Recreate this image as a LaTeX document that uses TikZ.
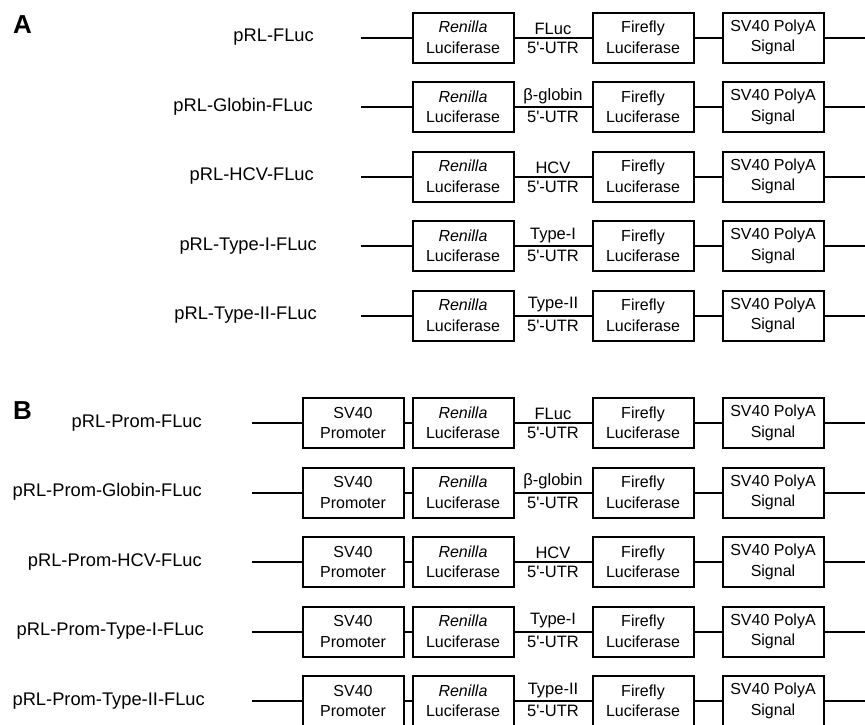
\documentclass[tikz,border=0pt]{standalone}
\usepackage{fontspec}
\setmainfont{Liberation Sans}
\usepackage{tikz}

\tikzset{
  gene/.style={draw, line width=2pt, fill=white, minimum width=101pt,
    minimum height=50pt, inner sep=0pt, align=center,
    font=\fontsize{16}{20.5}\selectfont},
  wire/.style={line width=2pt},
  utrtop/.style={anchor=south, inner sep=1pt, yshift=2pt, font=\fontsize{16.5}{19}\selectfont},
  utrbot/.style={anchor=north, inner sep=1pt, yshift=-3pt, font=\fontsize{16.5}{19}\selectfont},
  construct/.style={anchor=base east, inner sep=0pt, font=\fontsize{18.3}{21}\selectfont},
  panel/.style={anchor=base west, inner sep=0pt, font=\bfseries\fontsize{26}{30}\selectfont}
}
\newcommand{\utr}{5\textquotesingle-UTR}

\begin{document}
\begin{tikzpicture}[x=1pt, y=-1pt]
\useasboundingbox (0,0) rectangle (865,724);
% panel letters
\node[panel] (pa) at (13,33) {A};
\node[panel] (pb) at (13,419) {B};

% ---- A: FLuc ----
\node[construct] (la1) at (314,41.5) {pRL-FLuc};
\coordinate (sa1) at (361,37.5);
\node[gene] (ra1) at (463,37.5) {\textit{Renilla}\\Luciferase};
\node[gene] (fa1) at (643,37.5) {Firefly\\Luciferase};
\node[gene] (pa1) at (773,37.5) {SV40 PolyA\\Signal};
\coordinate (ea1) at (865,37.5);
\node[utrtop] (ua1) at (553,37.5) {FLuc};
\node[utrbot] (ub1) at (553,37.5) {\utr};
\draw[wire] (sa1) -- (ra1) (ra1) -- (fa1) (fa1) -- (pa1) (pa1) -- (ea1);

% ---- A: Globin ----
\node[construct] (la2) at (313,111) {pRL-Globin-FLuc};
\coordinate (sa2) at (361,107);
\node[gene] (ra2) at (463,107) {\textit{Renilla}\\Luciferase};
\node[gene] (fa2) at (643,107) {Firefly\\Luciferase};
\node[gene] (pa2) at (773,107) {SV40 PolyA\\Signal};
\coordinate (ea2) at (865,107);
\node[utrtop] (ua2) at (553,107) {β-globin};
\node[utrbot] (ub2) at (553,107) {\utr};
\draw[wire] (sa2) -- (ra2) (ra2) -- (fa2) (fa2) -- (pa2) (pa2) -- (ea2);

% ---- A: HCV ----
\node[construct] (la3) at (314,180.5) {pRL-HCV-FLuc};
\coordinate (sa3) at (361,176.5);
\node[gene] (ra3) at (463,176.5) {\textit{Renilla}\\Luciferase};
\node[gene] (fa3) at (643,176.5) {Firefly\\Luciferase};
\node[gene] (pa3) at (773,176.5) {SV40 PolyA\\Signal};
\coordinate (ea3) at (865,176.5);
\node[utrtop] (ua3) at (553,176.5) {HCV};
\node[utrbot] (ub3) at (553,176.5) {\utr};
\draw[wire] (sa3) -- (ra3) (ra3) -- (fa3) (fa3) -- (pa3) (pa3) -- (ea3);

% ---- A: Type-I ----
\node[construct] (la4) at (317,250) {pRL-Type-I-FLuc};
\coordinate (sa4) at (361,246);
\node[gene] (ra4) at (463,246) {\textit{Renilla}\\Luciferase};
\node[gene] (fa4) at (643,246) {Firefly\\Luciferase};
\node[gene] (pa4) at (773,246) {SV40 PolyA\\Signal};
\coordinate (ea4) at (865,246);
\node[utrtop] (ua4) at (553,246) {Type-I};
\node[utrbot] (ub4) at (553,246) {\utr};
\draw[wire] (sa4) -- (ra4) (ra4) -- (fa4) (fa4) -- (pa4) (pa4) -- (ea4);

% ---- A: Type-II ----
\node[construct] (la5) at (317,319.5) {pRL-Type-II-FLuc};
\coordinate (sa5) at (361,315.5);
\node[gene] (ra5) at (463,315.5) {\textit{Renilla}\\Luciferase};
\node[gene] (fa5) at (643,315.5) {Firefly\\Luciferase};
\node[gene] (pa5) at (773,315.5) {SV40 PolyA\\Signal};
\coordinate (ea5) at (865,315.5);
\node[utrtop] (ua5) at (553,315.5) {Type-II};
\node[utrbot] (ub5) at (553,315.5) {\utr};
\draw[wire] (sa5) -- (ra5) (ra5) -- (fa5) (fa5) -- (pa5) (pa5) -- (ea5);

% ---- B: Prom-FLuc ----
\node[construct] (lb1) at (202,427) {pRL-Prom-FLuc};
\coordinate (sb1) at (252,423);
\node[gene] (mb1) at (353,423) {SV40\\Promoter};
\node[gene] (rb1) at (463,423) {\textit{Renilla}\\Luciferase};
\node[gene] (fb1) at (643,423) {Firefly\\Luciferase};
\node[gene] (pb1) at (773,423) {SV40 PolyA\\Signal};
\coordinate (eb1) at (865,423);
\node[utrtop] (vb1) at (553,423) {FLuc};
\node[utrbot] (wb1) at (553,423) {\utr};
\draw[wire] (sb1) -- (mb1) (mb1) -- (rb1) (rb1) -- (fb1) (fb1) -- (pb1) (pb1) -- (eb1);

% ---- B: Prom-Globin ----
\node[construct] (lb2) at (202,496.5) {pRL-Prom-Globin-FLuc};
\coordinate (sb2) at (252,492.5);
\node[gene] (mb2) at (353,492.5) {SV40\\Promoter};
\node[gene] (rb2) at (463,492.5) {\textit{Renilla}\\Luciferase};
\node[gene] (fb2) at (643,492.5) {Firefly\\Luciferase};
\node[gene] (pb2) at (773,492.5) {SV40 PolyA\\Signal};
\coordinate (eb2) at (865,492.5);
\node[utrtop] (vb2) at (553,492.5) {β-globin};
\node[utrbot] (wb2) at (553,492.5) {\utr};
\draw[wire] (sb2) -- (mb2) (mb2) -- (rb2) (rb2) -- (fb2) (fb2) -- (pb2) (pb2) -- (eb2);

% ---- B: Prom-HCV ----
\node[construct] (lb3) at (202,566) {pRL-Prom-HCV-FLuc};
\coordinate (sb3) at (252,562);
\node[gene] (mb3) at (353,562) {SV40\\Promoter};
\node[gene] (rb3) at (463,562) {\textit{Renilla}\\Luciferase};
\node[gene] (fb3) at (643,562) {Firefly\\Luciferase};
\node[gene] (pb3) at (773,562) {SV40 PolyA\\Signal};
\coordinate (eb3) at (865,562);
\node[utrtop] (vb3) at (553,562) {HCV};
\node[utrbot] (wb3) at (553,562) {\utr};
\draw[wire] (sb3) -- (mb3) (mb3) -- (rb3) (rb3) -- (fb3) (fb3) -- (pb3) (pb3) -- (eb3);

% ---- B: Prom-Type-I ----
\node[construct] (lb4) at (204,635.5) {pRL-Prom-Type-I-FLuc};
\coordinate (sb4) at (252,631.5);
\node[gene] (mb4) at (353,631.5) {SV40\\Promoter};
\node[gene] (rb4) at (463,631.5) {\textit{Renilla}\\Luciferase};
\node[gene] (fb4) at (643,631.5) {Firefly\\Luciferase};
\node[gene] (pb4) at (773,631.5) {SV40 PolyA\\Signal};
\coordinate (eb4) at (865,631.5);
\node[utrtop] (vb4) at (553,631.5) {Type-I};
\node[utrbot] (wb4) at (553,631.5) {\utr};
\draw[wire] (sb4) -- (mb4) (mb4) -- (rb4) (rb4) -- (fb4) (fb4) -- (pb4) (pb4) -- (eb4);

% ---- B: Prom-Type-II ----
\node[construct] (lb5) at (205,705) {pRL-Prom-Type-II-FLuc};
\coordinate (sb5) at (252,701);
\node[gene] (mb5) at (353,701) {SV40\\Promoter};
\node[gene] (rb5) at (463,701) {\textit{Renilla}\\Luciferase};
\node[gene] (fb5) at (643,701) {Firefly\\Luciferase};
\node[gene] (pb5) at (773,701) {SV40 PolyA\\Signal};
\coordinate (eb5) at (865,701);
\node[utrtop] (vb5) at (553,701) {Type-II};
\node[utrbot] (wb5) at (553,701) {\utr};
\draw[wire] (sb5) -- (mb5) (mb5) -- (rb5) (rb5) -- (fb5) (fb5) -- (pb5) (pb5) -- (eb5);
\end{tikzpicture}
\end{document}
